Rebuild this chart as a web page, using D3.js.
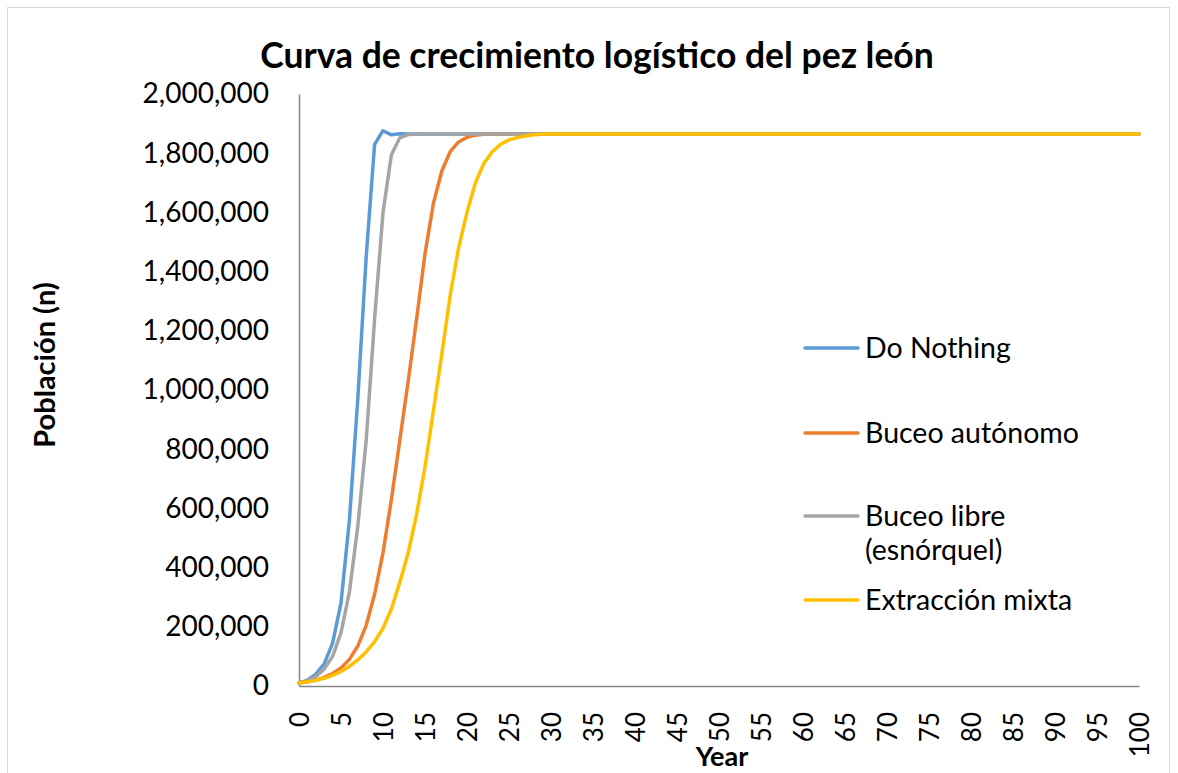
<!DOCTYPE html>
<html>
<head>
<meta charset="utf-8">
<script src="https://cdn.jsdelivr.net/npm/d3@7/dist/d3.min.js"></script>
<style>
  body { margin: 0; background: #fff; }
  svg { display: block; font-family: Lato, "Open Sans", sans-serif; }
</style>
</head>
<body>
<script>
let width = 1178;
let height = 773;

// años 0..100
let years = d3.range(0, 101);

let yTicks = [0, 200000, 400000, 600000, 800000, 1000000, 1200000, 1400000, 1600000, 1800000, 2000000];
let xTicks = [0, 5, 10, 15, 20, 25, 30, 35, 40, 45, 50, 55, 60, 65, 70, 75, 80, 85, 90, 95, 100];

let doNothing = [
  10000, 20000, 40000, 75000, 145000, 280000, 560000, 970000, 1450000, 1830000,
  1876000, 1862000, 1866000, 1865000, 1865000, 1865000, 1865000, 1865000, 1865000, 1865000,
  1865000, 1865000, 1865000, 1865000, 1865000, 1865000, 1865000, 1865000, 1865000, 1865000,
  1865000, 1865000, 1865000, 1865000, 1865000, 1865000, 1865000, 1865000, 1865000, 1865000,
  1865000, 1865000, 1865000, 1865000, 1865000, 1865000, 1865000, 1865000, 1865000, 1865000,
  1865000, 1865000, 1865000, 1865000, 1865000, 1865000, 1865000, 1865000, 1865000, 1865000,
  1865000, 1865000, 1865000, 1865000, 1865000, 1865000, 1865000, 1865000, 1865000, 1865000,
  1865000, 1865000, 1865000, 1865000, 1865000, 1865000, 1865000, 1865000, 1865000, 1865000,
  1865000, 1865000, 1865000, 1865000, 1865000, 1865000, 1865000, 1865000, 1865000, 1865000,
  1865000, 1865000, 1865000, 1865000, 1865000, 1865000, 1865000, 1865000, 1865000, 1865000,
  1865000
];

let buceoAutonomo = [
  10000, 14000, 20000, 29000, 42000, 61000, 90000, 135000, 205000, 310000,
  450000, 630000, 830000, 1030000, 1240000, 1460000, 1630000, 1740000, 1805000, 1838000,
  1854000, 1861000, 1864000, 1865000, 1865000, 1865000, 1865000, 1865000, 1865000, 1865000,
  1865000, 1865000, 1865000, 1865000, 1865000, 1865000, 1865000, 1865000, 1865000, 1865000,
  1865000, 1865000, 1865000, 1865000, 1865000, 1865000, 1865000, 1865000, 1865000, 1865000,
  1865000, 1865000, 1865000, 1865000, 1865000, 1865000, 1865000, 1865000, 1865000, 1865000,
  1865000, 1865000, 1865000, 1865000, 1865000, 1865000, 1865000, 1865000, 1865000, 1865000,
  1865000, 1865000, 1865000, 1865000, 1865000, 1865000, 1865000, 1865000, 1865000, 1865000,
  1865000, 1865000, 1865000, 1865000, 1865000, 1865000, 1865000, 1865000, 1865000, 1865000,
  1865000, 1865000, 1865000, 1865000, 1865000, 1865000, 1865000, 1865000, 1865000, 1865000,
  1865000
];

let buceoLibre = [
  10000, 18000, 32000, 57000, 100000, 180000, 317000, 540000, 830000, 1240000,
  1600000, 1795000, 1852000, 1863000, 1865000, 1865000, 1865000, 1865000, 1865000, 1865000,
  1865000, 1865000, 1865000, 1865000, 1865000, 1865000, 1865000, 1865000, 1865000, 1865000,
  1865000, 1865000, 1865000, 1865000, 1865000, 1865000, 1865000, 1865000, 1865000, 1865000,
  1865000, 1865000, 1865000, 1865000, 1865000, 1865000, 1865000, 1865000, 1865000, 1865000,
  1865000, 1865000, 1865000, 1865000, 1865000, 1865000, 1865000, 1865000, 1865000, 1865000,
  1865000, 1865000, 1865000, 1865000, 1865000, 1865000, 1865000, 1865000, 1865000, 1865000,
  1865000, 1865000, 1865000, 1865000, 1865000, 1865000, 1865000, 1865000, 1865000, 1865000,
  1865000, 1865000, 1865000, 1865000, 1865000, 1865000, 1865000, 1865000, 1865000, 1865000,
  1865000, 1865000, 1865000, 1865000, 1865000, 1865000, 1865000, 1865000, 1865000, 1865000,
  1865000
];

let extraccionMixta = [
  10000, 14000, 19000, 26000, 36000, 49000, 66000, 88000, 115000, 150000,
  195000, 260000, 350000, 450000, 580000, 740000, 930000, 1120000, 1320000, 1480000,
  1600000, 1700000, 1765000, 1805000, 1830000, 1845000, 1853000, 1858000, 1862000, 1864000,
  1865000, 1865000, 1865000, 1865000, 1865000, 1865000, 1865000, 1865000, 1865000, 1865000,
  1865000, 1865000, 1865000, 1865000, 1865000, 1865000, 1865000, 1865000, 1865000, 1865000,
  1865000, 1865000, 1865000, 1865000, 1865000, 1865000, 1865000, 1865000, 1865000, 1865000,
  1865000, 1865000, 1865000, 1865000, 1865000, 1865000, 1865000, 1865000, 1865000, 1865000,
  1865000, 1865000, 1865000, 1865000, 1865000, 1865000, 1865000, 1865000, 1865000, 1865000,
  1865000, 1865000, 1865000, 1865000, 1865000, 1865000, 1865000, 1865000, 1865000, 1865000,
  1865000, 1865000, 1865000, 1865000, 1865000, 1865000, 1865000, 1865000, 1865000, 1865000,
  1865000
];

let seriesNames = ["Do Nothing", "Buceo autónomo", "Buceo libre (esnórquel)", "Extracción mixta"];
let seriesColors = ["#5B9BD5", "#ED7D31", "#A5A5A5", "#FFC000"];
let seriesValues = [doNothing, buceoAutonomo, buceoLibre, extraccionMixta];

let series = seriesNames.map((name, i) => ({name: name, color: seriesColors[i], values: seriesValues[i]}));

let svg = d3.select("body").append("svg").attr("width", width).attr("height", height);

// marco exterior del gráfico
svg.append("rect").attr("x", 7.5).attr("y", 7.5).attr("width", 1162).attr("height", 800)
  .attr("fill", "none").attr("stroke", "#D9D9D9").attr("stroke-width", 1);

let x = d3.scaleLinear().domain([0, 100]).range([299, 1139]);
let y = d3.scaleLinear().domain([0, 2000000]).range([686, 94]);

// eje y
let yAxis = svg.append("g").attr("transform", "translate(" + x(0) + ",0)")
  .call(d3.axisLeft(y).tickValues(yTicks).tickSize(0).tickPadding(30).tickFormat(d3.format(",")));
yAxis.select(".domain").attr("stroke", "#868686").attr("stroke-width", 1.5);
yAxis.selectAll("text").attr("font-size", 28).attr("fill", "#000").attr("font-family", "Lato");

// eje x
let xAxis = svg.append("g").attr("transform", "translate(0," + y(0) + ")")
  .call(d3.axisBottom(x).tickValues(xTicks).tickSize(0).tickFormat(d3.format("d")));
xAxis.select(".domain").attr("stroke", "#868686").attr("stroke-width", 1.5);
xAxis.selectAll("text")
  .attr("font-size", 26).attr("fill", "#000").attr("font-family", "Lato")
  .attr("text-anchor", "end").attr("dy", "0.35em")
  .attr("transform", "translate(0,26) rotate(-90)")
  .attr("x", 0).attr("y", 0);

// líneas
let lineFunc = d3.line().x((d, i) => x(years[i])).y(d => y(d));
svg.append("g").selectAll("path").data(series).enter().append("path")
  .attr("d", s => lineFunc(s.values))
  .attr("fill", "none").attr("stroke", s => s.color).attr("stroke-width", 3.5)
  .attr("stroke-linejoin", "round").attr("stroke-linecap", "round");

// título
svg.append("text").attr("x", 597).attr("y", 68).attr("text-anchor", "middle")
  .attr("font-size", 35.5).attr("font-weight", "bold").text("Curva de crecimiento logístico del pez león");

// títulos de ejes
svg.append("text").attr("transform", "translate(55,365) rotate(-90)").attr("text-anchor", "middle")
  .attr("font-size", 29).attr("font-weight", "bold").text("Población (n)");
svg.append("text").attr("x", 722).attr("y", 766).attr("text-anchor", "middle")
  .attr("font-size", 27).attr("font-weight", "bold").text("Year");

// leyenda
let legendRows = [
  {lineY: 348, lines: ["Do Nothing"]},
  {lineY: 433, lines: ["Buceo autónomo"]},
  {lineY: 516, lines: ["Buceo libre", "(esnórquel)"]},
  {lineY: 600, lines: ["Extracción mixta"]}
];
let legend = svg.append("g").selectAll("g").data(series).enter().append("g");
legend.append("line")
  .attr("x1", 805).attr("x2", 858)
  .attr("y1", (s, i) => legendRows[i].lineY).attr("y2", (s, i) => legendRows[i].lineY)
  .attr("stroke", s => s.color).attr("stroke-width", 3.5).attr("stroke-linecap", "round");
legend.each(function(s, i) {
  let row = legendRows[i];
  row.lines.forEach((t, j) => {
    d3.select(this).append("text").attr("x", 865).attr("y", row.lineY + j * 34)
      .attr("dy", "0.35em").attr("font-size", 28.5).text(t);
  });
});
</script>
</body>
</html>
